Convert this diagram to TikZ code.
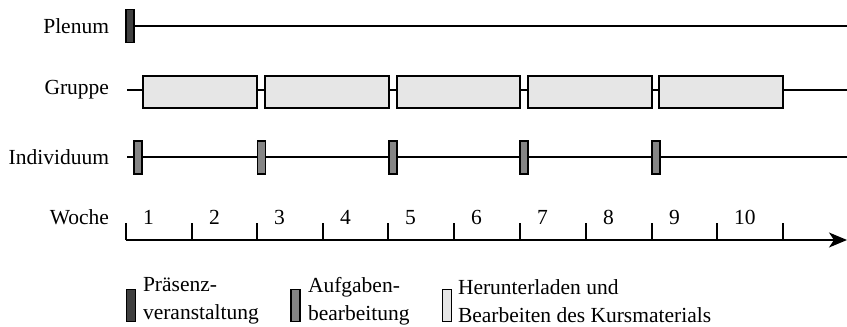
\documentclass[tikz,border=0pt]{standalone}
\usepackage{fontspec}
\setmainfont{Liberation Serif}
\usetikzlibrary{arrows.meta}
\definecolor{cdark}{HTML}{404040}
\definecolor{cmid}{HTML}{858585}
\definecolor{clight}{HTML}{E6E6E6}
\begin{document}
\begin{tikzpicture}[x=1pt,y=-1pt,
  font=\fontsize{21.5}{28}\selectfont,
  every node/.style={inner sep=0pt, outer sep=0pt},
  lbl/.style={anchor=east},
  tl/.style={line width=1.4pt},
  pl/.style={draw=black, line width=1.4pt, fill=cdark, minimum width=8pt, minimum height=33pt},
  ind/.style={draw=black, line width=1.4pt, fill=cmid, minimum width=8pt, minimum height=33pt},
  grp/.style={draw=black, line width=1.4pt, fill=clight, minimum height=32pt},
  leg/.style={anchor=west, align=left},
  num/.style={anchor=base west}
]
\useasboundingbox (0,0) rectangle (847,327);
% labels
\node[lbl] (lplenum) at (109,26) {Plenum};
\node[lbl] (lgruppe) at (109,90) {Gruppe};
\node[lbl] (lind) at (109,157) {Individuum};
\node[lbl] (lwoche) at (109,217) {Woche};
% Plenum
\coordinate (pend) at (847,26);
\node[pl] (p1) at (130,26) {};
\draw[tl] (p1.east) -- (pend);
% Gruppe
\coordinate (gstart) at (127,90);
\coordinate (gend) at (847,90);
\draw[tl] (gstart) -- (gend);
\foreach \a/\b [count=\i] in {143/257,265/389,397/520,528/652,659/783}{
  \node[grp, minimum width={\b-\a}] (g\i) at ({(\a+\b)/2},92) {};
}
% Individuum
\coordinate (istart) at (127,157);
\coordinate (iend) at (847,157);
\draw[tl] (istart) -- (iend);
\foreach \x [count=\i] in {138,261.5,393,524,656}{
  \node[ind] (i\i) at (\x,157.5) {};
}
% Axis
\coordinate (astart) at (126,240);
\coordinate (aend) at (847,240);
\draw[tl, -{Stealth[length=18pt,width=15pt,inset=5pt]}] (astart) -- (aend);
\foreach \x [count=\i] in {126,192,257,323,388,454,520,586,652,717,783}{
  \coordinate (t\i) at (\x,240);
  \draw[tl] (t\i) -- ++(0,-17);
}
\foreach \x/\n in {126/1,192/2,257/3,323/4,388/5,454/6,520/7,586/8,652/9,717/10}{
  \node[num] (n\n) at (\x+17,224) {\n};
}
% Legend
\node[pl, minimum height=32pt, minimum width=9pt] (k1) at (131,305.5) {};
\node[leg] (k1t) at (143,301) {Präsenz-\\veranstaltung};
\node[ind, minimum height=32pt, minimum width=9pt] (k2) at (295.5,305.5) {};
\node[leg] (k2t) at (308,301) {Aufgaben-\\bearbeitung};
\node[grp, minimum height=32pt, minimum width=9pt] (k3) at (447,305.5) {};
\node[leg] (k3t) at (458,301) {Herunterladen und\\Bearbeiten des Kursmaterials};
\end{tikzpicture}
\end{document}
